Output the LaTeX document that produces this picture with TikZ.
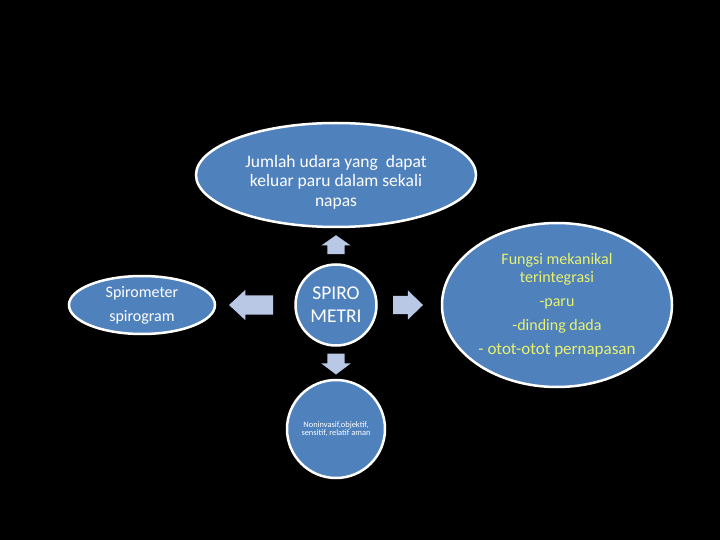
\documentclass[tikz,border=0pt]{standalone}
\usepackage{fontspec}
\setmainfont{Carlito}
\usepackage{tikz}
\usetikzlibrary{positioning, shapes.geometric, shapes.arrows, calc}
\definecolor{bubble}{RGB}{79, 129, 189}
\definecolor{pointer}{RGB}{185, 200, 228}
\definecolor{highlight}{RGB}{232, 242, 110}
\tikzset{
    base/.style={draw=white, line width=2.5pt, fill=bubble, text=white, align=center, inner sep=0pt},
    oval/.style={base, ellipse},
    disc/.style={base, circle},
    blockarrow/.style={single arrow, fill=pointer, inner sep=0pt, single arrow head indent=0pt}
}

\begin{document}
\begin{tikzpicture}[x=1pt, y=-1pt]
\fill[black] (0,0) rectangle (720,540);
\useasboundingbox (0,0) rectangle (720,540);

% Nodes
\node[disc, minimum size=81pt, font=\fontsize{19.5}{23}\selectfont] (spiro) at (336,305) {SPIRO\\METRI};
\node[oval, minimum width=280pt, minimum height=104pt, above=35pt of spiro, text height=65pt, font=\fontsize{17.5}{19.5}\selectfont] (jumlah) {Jumlah udara yang\ \ dapat\\keluar paru dalam sekali\\napas};
\node[oval, minimum width=146pt, minimum height=58pt, left=78pt of spiro, font=\fontsize{16}{24}\selectfont] (alat) {Spirometer\\spirogram};
\node[oval, minimum width=230pt, minimum height=164pt, right=63pt of spiro, text=highlight, font=\fontsize{16}{18}\selectfont] (fungsi) {Fungsi mekanikal\\terintegrasi\\[6pt]-paru\\[6pt]-dinding dada\\[6pt]{\fontsize{17}{18}\selectfont - otot-otot pernapasan}};
\node[disc, minimum size=98pt, below=32pt of spiro, font=\fontsize{8.4}{8}\selectfont] (sifat) {Noninvasif,objektif,\\sensitif, relatif aman};

% Block arrows
\node[blockarrow, shape border rotate=90, inner xsep=8.5pt, minimum height=19pt, single arrow head extend=6pt, single arrow tip angle=110] (toJumlah) at ($(spiro.north)!0.5!(jumlah.south)+(0,2)$) {};
\node[blockarrow, shape border rotate=270, inner xsep=8.5pt, minimum height=21pt, single arrow head extend=6pt, single arrow tip angle=106] (toSifat) at ($(spiro.south)!0.5!(sifat.north)+(0,-2)$) {};
\node[blockarrow, shape border rotate=180, inner ysep=9.5pt, minimum height=44pt, single arrow head extend=5.5pt, single arrow tip angle=86] (toAlat) at ($(spiro.west)!0.5!(alat.east)+(1,0)$) {};
\node[blockarrow, inner ysep=9pt, minimum height=30pt, single arrow head extend=5.5pt, single arrow tip angle=88] (toFungsi) at ($(spiro.east)!0.5!(fungsi.west)+(-6,0)$) {};

\end{tikzpicture}
\end{document}
